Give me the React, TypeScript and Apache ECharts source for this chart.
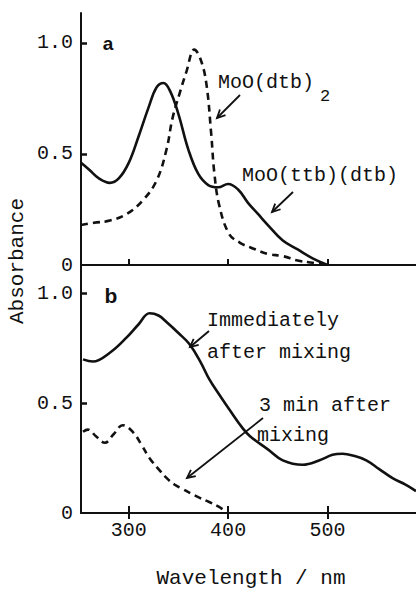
import React, { useEffect, useRef } from "react";
import * as echarts from "echarts";

// Panel a: MoO(ttb)(dtb) (solid)
const wlA_ttb = [252, 260, 270, 281, 290, 300, 310, 320, 328, 335, 342, 350, 360, 370, 380, 390, 400, 410, 420, 430, 440, 455, 470, 485, 500];
const absA_ttb = [0.46, 0.43, 0.39, 0.37, 0.39, 0.46, 0.58, 0.71, 0.80, 0.82, 0.78, 0.68, 0.52, 0.41, 0.36, 0.35, 0.365, 0.34, 0.28, 0.23, 0.18, 0.11, 0.07, 0.03, 0.0];
// Panel a: MoO(dtb)2 (dashed)
const wlA_dtb = [252, 265, 281, 298, 314, 328, 338, 344, 351, 358, 366, 372, 378, 383, 386, 391, 401, 412, 422, 440, 455, 470, 485, 500];
const absA_dtb = [0.18, 0.19, 0.20, 0.23, 0.29, 0.38, 0.52, 0.66, 0.77, 0.87, 0.97, 0.93, 0.82, 0.59, 0.42, 0.27, 0.14, 0.10, 0.08, 0.05, 0.04, 0.02, 0.01, 0.0];
// Panel b: immediately after mixing (solid)
const wlB_imm = [254, 264, 281, 298, 310, 321, 330, 338, 350, 361, 372, 381, 391, 403, 414, 422, 440, 455, 475, 492, 505, 515, 527, 539, 552, 565, 578, 589];
const absB_imm = [0.70, 0.69, 0.73, 0.80, 0.86, 0.91, 0.90, 0.87, 0.82, 0.77, 0.69, 0.61, 0.54, 0.46, 0.39, 0.35, 0.29, 0.24, 0.22, 0.24, 0.265, 0.27, 0.26, 0.24, 0.20, 0.16, 0.13, 0.10];
// Panel b: 3 min after mixing (dashed)
const wlB_3min = [254, 259, 267, 276, 285, 294, 304, 313, 321, 330, 338, 346, 354, 362, 371, 381, 390, 400];
const absB_3min = [0.37, 0.38, 0.35, 0.32, 0.36, 0.40, 0.37, 0.31, 0.25, 0.20, 0.16, 0.13, 0.11, 0.09, 0.07, 0.05, 0.03, 0.0];

const xTicks = [300, 400, 500];
const yTicks = [0, 0.5, 1.0];
const xMin = 252;
const xMax = 589;

const pairs = (xs: number[], ys: number[]) => xs.map((x, i) => [x, ys[i]]);

const MONO = '"Liberation Mono", "DejaVu Sans Mono", monospace';
const INK = "#111";

function arrow(x0: number, y0: number, x1: number, y1: number) {
  const ang = Math.atan2(y0 - y1, x0 - x1);
  const L = 9;
  const spread = 0.45;
  const h1 = [x1 + L * Math.cos(ang + spread), y1 + L * Math.sin(ang + spread)];
  const h2 = [x1 + L * Math.cos(ang - spread), y1 + L * Math.sin(ang - spread)];
  return [
    { type: "line", shape: { x1: x0, y1: y0, x2: x1, y2: y1 }, style: { stroke: INK, lineWidth: 1.8 } },
    { type: "polyline", shape: { points: [h1, [x1, y1], h2] }, style: { stroke: INK, lineWidth: 1.8, fill: null } },
  ];
}

function txt(text: string, x: number, y: number, size = 20, extra: any = {}) {
  return {
    type: "text",
    x,
    y,
    ...extra,
    style: {
      text,
      font: `${size}px ${MONO}`,
      fill: INK,
      verticalAlign: "middle",
      align: extra.align || "left",
    },
  };
}

export default function App() {
  const ref = useRef<HTMLDivElement>(null);
  useEffect(() => {
    if (!ref.current) return;
    const chart = echarts.init(ref.current, undefined, { renderer: "svg" });
    const axisLine = { show: true, onZero: false, lineStyle: { color: INK, width: 2 } };
    const xBase = (gridIndex: number) => ({
      type: "value",
      gridIndex,
      min: xMin,
      max: xMax,
      splitLine: { show: false },
    });
    const yBase = (gridIndex: number, max: number) => ({
      type: "value",
      gridIndex,
      min: 0,
      max,
      splitLine: { show: false },
      axisLine,
      axisTick: { show: true, inside: true, length: 6, customValues: [0.5, 1.0], lineStyle: { color: INK, width: 2.5 } },
      axisLabel: {
        show: true,
        customValues: yTicks,
        formatter: (v: number) => (v === 0 ? "0" : v.toFixed(1)),
        fontFamily: MONO,
        fontSize: 20,
        color: INK,
        margin: 8,
      },
    });
    const lineSeries = (xi: number, yi: number, data: number[][], dashed: boolean) => ({
      type: "line",
      xAxisIndex: xi,
      yAxisIndex: yi,
      data,
      showSymbol: false,
      smooth: 0.4,
      lineStyle: { color: INK, width: 2.6, type: dashed ? [7, 5] : "solid" },
      z: 3,
    });

    const option: any = {
      animation: false,
      backgroundColor: "#fff",
      grid: [
        { left: 81, right: 0, top: 13, height: 252 },
        { left: 81, right: 0, top: 265, height: 248 },
      ],
      xAxis: [
        {
          ...xBase(0),
          position: "bottom",
          axisLine,
          axisTick: { show: true, inside: true, length: 6, customValues: xTicks, lineStyle: { color: INK, width: 2 } },
          axisLabel: { show: false },
        },
        {
          ...xBase(1),
          position: "bottom",
          axisLine,
          axisTick: { show: true, inside: true, length: 7, customValues: xTicks, lineStyle: { color: INK, width: 2 } },
          axisLabel: {
            show: true,
            customValues: xTicks,
            fontFamily: MONO,
            fontSize: 20,
            color: INK,
            margin: 7,
          },
        },
        {
          ...xBase(1),
          position: "top",
          axisLine: { show: false },
          axisTick: { show: true, inside: true, length: 6, customValues: xTicks, lineStyle: { color: INK, width: 2 } },
          axisLabel: { show: false },
        },
      ],
      yAxis: [yBase(0, 1.135), yBase(1, 1.13)],
      series: [
        lineSeries(0, 0, pairs(wlA_ttb, absA_ttb), false),
        lineSeries(0, 0, pairs(wlA_dtb, absA_dtb), true),
        lineSeries(1, 1, pairs(wlB_imm, absB_imm), false),
        lineSeries(1, 1, pairs(wlB_3min, absB_3min), true),
      ],
      graphic: [
        {
          type: "text",
          x: 108,
          y: 43,
          style: { text: "a", font: 'bold 19px "Liberation Sans", Arial, sans-serif', fill: INK, align: "center", verticalAlign: "middle" },
        },
        {
          type: "text",
          x: 111,
          y: 295,
          style: { text: "b", font: 'bold 21px "Liberation Sans", Arial, sans-serif', fill: INK, align: "center", verticalAlign: "middle" },
        },
        txt("MoO(dtb)", 218, 82),
        txt("2", 320, 96, 17),
        txt("MoO(ttb)(dtb)", 242, 175),
        txt("Immediately", 207, 320),
        txt("after mixing", 207, 352),
        txt("3 min after", 259, 405),
        txt("mixing", 257, 435),
        ...arrow(240, 95, 217, 118),
        ...arrow(293, 192, 272, 212),
        ...arrow(209, 331, 190, 347),
        ...arrow(263, 418, 187, 478),
        txt("Absorbance", 17, 261, 21, { rotation: Math.PI / 2, align: "center" }),
        txt("Wavelength / nm", 251, 578, 21, { align: "center" }),
      ],
    };
    chart.setOption(option);
    return () => chart.dispose();
  }, []);
  return (
    <div
      ref={ref}
      style={{ position: "absolute", left: 0, top: 0, width: 416, height: 589, background: "#fff" }}
    />
  );
}
